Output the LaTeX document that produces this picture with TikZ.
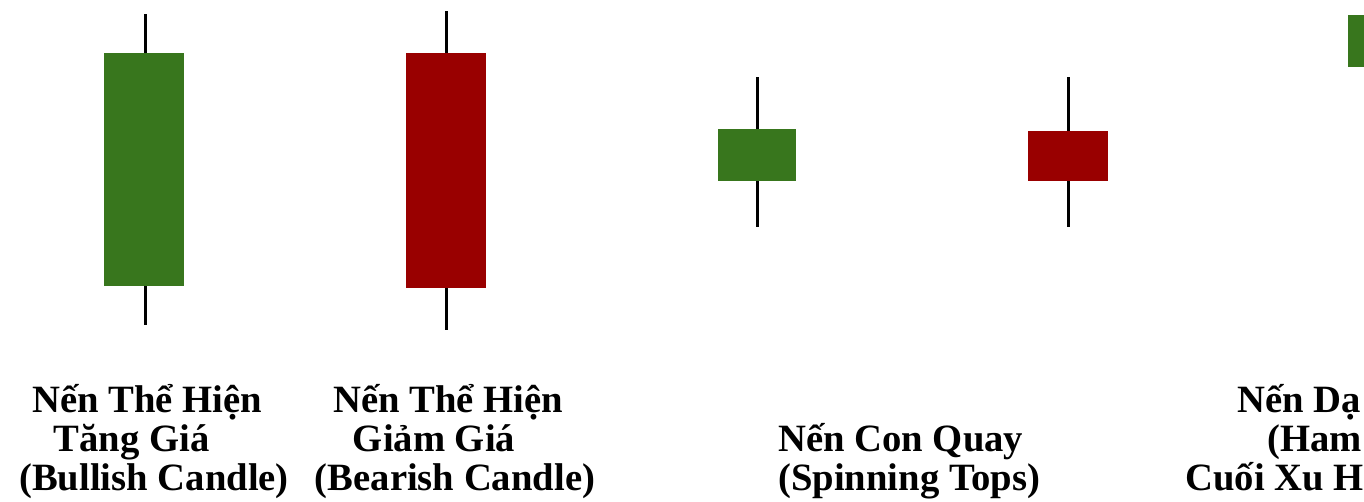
\documentclass[tikz,border=0pt]{standalone}
\usepackage{fontspec}
\setmainfont{Liberation Serif}
\definecolor{bullgreen}{HTML}{38761D}
\definecolor{bearred}{HTML}{990000}

\begin{document}
\begin{tikzpicture}[x=0.02cm,y=-0.02cm,
  wick/.style={line width=0.06cm,black},
  bull/.style={fill=bullgreen},
  bear/.style={fill=bearred},
  lbl/.style={font=\bfseries\fontsize{22}{22.2}\selectfont,inner sep=0pt}]
\useasboundingbox (0,0) rectangle (1364,501);
\clip (0,0) rectangle (1364,501);

\draw[wick] (145,14) -- (145,325);
\fill[bull] (104,53) rectangle (184,286);
\draw[wick] (446,11) -- (446,330);
\fill[bear] (406,53) rectangle (486,288);
\draw[wick] (757,77) -- (757,227);
\fill[bull] (718,129) rectangle (796,181);
\draw[wick] (1068,77) -- (1068,227);
\fill[bear] (1028,131) rectangle (1108,181);
\fill[bull] (1348,15) rectangle (1400,67);

\node[lbl,align=center,anchor=base] (bullish) at (154,490)
  {Nến Thể Hiện\rule{0.28cm}{0pt}\\Tăng Giá\rule{0.9cm}{0pt}\\(Bullish Candle)};
\node[lbl,align=center,anchor=base] (bearish) at (455,490)
  {Nến Thể Hiện\rule{0.28cm}{0pt}\\Giảm Giá\rule{0.84cm}{0pt}\\(Bearish Candle)};
\node[lbl,align=left,anchor=base west] (spinning) at (778,490)
  {Nến Con Quay\\(Spinning Tops)};
\node[lbl,align=left,anchor=base west] (hammer) at (1185,490)
  {\hspace*{1.04cm}Nến Dạ\\\hspace*{1.64cm}(Ham\\Cuối Xu H};
\end{tikzpicture}
\end{document}
